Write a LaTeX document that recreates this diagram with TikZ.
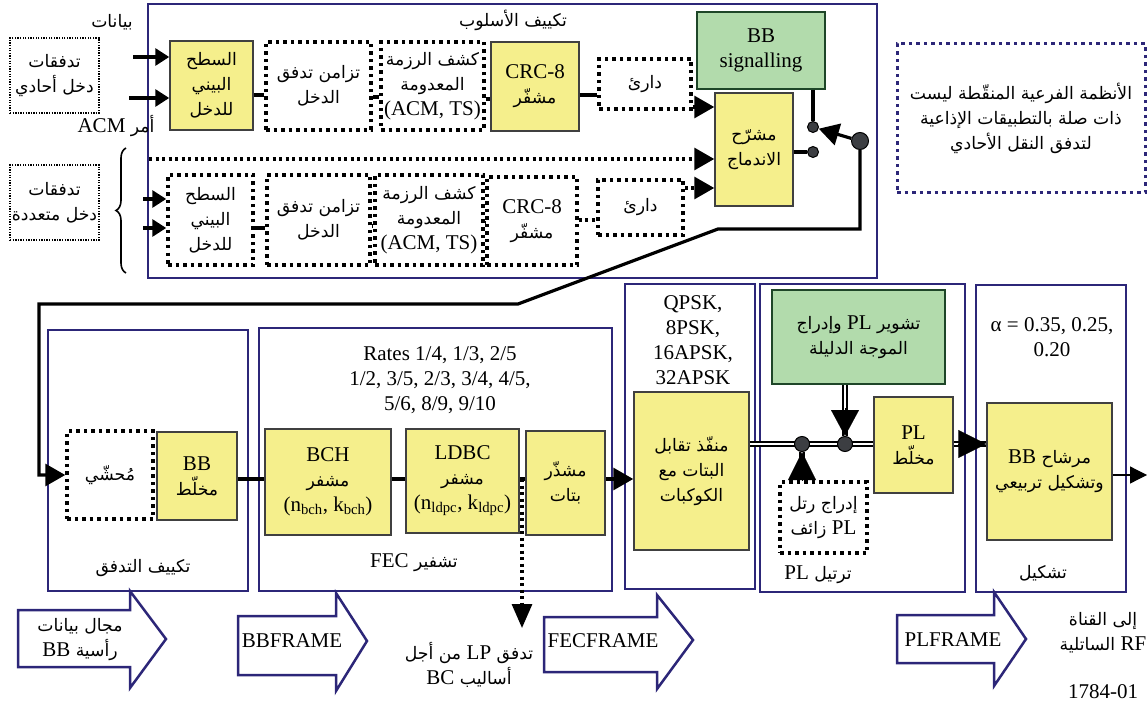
\documentclass[tikz,border=0pt]{standalone}
\usepackage{fontspec}
\setmainfont{Liberation Serif}
\newfontfamily\arabicfont[Script=Arabic,Scale=0.82]{DejaVu Sans}
\TeXXeTstate=1
\usetikzlibrary{arrows.meta,positioning,decorations.pathreplacing}
\definecolor{navy}{RGB}{44,38,120}
\definecolor{boxyellow}{RGB}{245,239,140}
\definecolor{boxgreen}{RGB}{178,219,172}
\definecolor{darkgreen}{RGB}{30,70,40}
\definecolor{knobgray}{RGB}{60,62,66}
\newcommand\ar[1]{{\arabicfont\beginR #1\endR}}
\newcommand\lt[1]{\beginL{\rmfamily #1}\endL{}}

\begin{document}
\begin{tikzpicture}[x=1pt,y=-1pt,
  every node/.style={font=\fontsize{21}{25}\selectfont, align=center, inner sep=0pt},
  frame/.style={draw=navy, line width=1.8pt},
  ybox/.style={draw=black!75, line width=1.5pt, fill=boxyellow},
  gbox/.style={draw=darkgreen, line width=1.5pt, fill=boxgreen},
  dbox/.style={draw, line width=3.5pt, dash pattern=on 3.5pt off 4pt},
  fbox/.style={draw, line width=1.2pt, dash pattern=on 1.3pt off 1.3pt},
  wire/.style={line width=3.2pt},
  dwire/.style={wire, dash pattern=on 3pt off 3.5pt},
  arr/.style={wire, -{Triangle[length=20pt,width=22pt]}},
  inarr/.style={wire, -{Triangle[length=14pt,width=17pt]}},
  dbl/.style={double, double distance=2.2pt, line width=2pt},
  knob/.style={circle, draw, line width=1pt, fill=knobgray},
  fat/.style={draw=navy, line width=2.5pt, fill=white, line join=miter}]
\useasboundingbox (0,0) rectangle (1147,711);

\node[frame, minimum width=729, minimum height=274] (mode) at (512.5,141) {};
\node (modet) at (513,20) {\ar{تكييف الأسلوب}};
\node (data) at (112,22) {\ar{بيانات}};
\node[fbox, minimum width=89, minimum height=75] (single) at (54.5,75.5) {\ar{تدفقات}\\\ar{دخل أحادي}};
\node (acm) at (116,126) {\ar{أمر \lt{ACM}}};
\node[fbox, minimum width=89, minimum height=75] (multi) at (54.5,202.5) {\ar{تدفقات}\\\ar{دخل متعددة}};
\coordinate (br1) at (126,273);
\coordinate (br2) at (126,148);
\draw[decorate, decoration={brace, amplitude=10pt}, line width=1.6pt] (br1) -- (br2);

\node[ybox, minimum width=83, minimum height=89] (ifcA) at (211.5,85.5) {\ar{السطح}\\\ar{البيني}\\\ar{للدخل}};
\node[dbox, minimum width=105, minimum height=88] (syncA) at (318.5,86) {\ar{تزامن تدفق}\\\ar{الدخل}};
\node[dbox, minimum width=103, minimum height=88] (nullA) at (432.5,86) {\ar{كشف الرزمة}\\\ar{المعدومة}\\(ACM, TS)};
\node[ybox, minimum width=88, minimum height=89] (crcA) at (535,86.5) {CRC-8\\\ar{مشفّر}};
\node[dbox, minimum width=92, minimum height=50] (bufA) at (645,84) {\ar{دارئ}};
\node[gbox, minimum width=128, minimum height=77] (bbsig) at (761,50.5) {BB\\signalling};
\node[ybox, minimum width=78, minimum height=113] (merger) at (754,149.5) {\ar{مشرّح}\\\ar{الاندماج}};
\node[knob, minimum size=11] (c1) at (813,127) {};
\node[knob, minimum size=11] (c2) at (813,152) {};
\node[knob, minimum size=17] (c3) at (860,141) {};

\node[dbox, minimum width=85, minimum height=90] (ifcB) at (210.5,220) {\ar{السطح}\\\ar{البيني}\\\ar{للدخل}};
\node[dbox, minimum width=103, minimum height=90] (syncB) at (318.5,220) {\ar{تزامن تدفق}\\\ar{الدخل}};
\node[dbox, minimum width=108, minimum height=90] (nullB) at (429,220) {\ar{كشف الرزمة}\\\ar{المعدومة}\\(ACM, TS)};
\node[dbox, minimum width=90, minimum height=88] (crcB) at (532,221) {CRC-8\\\ar{مشفّر}};
\node[dbox, minimum width=85, minimum height=55] (bufB) at (640.5,207.5) {\ar{دارئ}};

\node[dbox, draw=navy, line width=3pt, minimum width=248, minimum height=149] (note) at (1021,118.5) {\ar{الأنظمة الفرعية المنقّطة ليست}\\\ar{ذات صلة بالتطبيقات الإذاعية}\\\ar{لتدفق النقل الأحادي}};

\coordinate (inA1) at (133,57);
\coordinate (inA2) at (129,98);
\draw[inarr] (inA1) -- (inA1 -| ifcA.west);
\draw[inarr] (inA2) -- (inA2 -| ifcA.west);
\draw[wire] (ifcA.east |- 0,95) -- (syncA.west |- 0,95);
\draw[wire] (syncA.east |- 0,97) -- (nullA.west |- 0,97);
\draw[wire] (nullA.east |- 0,99) -- (crcA.west |- 0,99);
\draw[wire] (crcA.east |- 0,95) -- (bufA.west |- 0,95);
\draw[arr] (bufA.east |- 0,107) -- (merger.west |- 0,107);
\coordinate (dl) at (149,159);
\draw[dwire, -{Triangle[length=20pt,width=22pt]}] (dl) -- (dl -| merger.west);
\draw[dwire, -{Triangle[length=20pt,width=22pt]}] (bufB.east |- 0,188) -- (merger.west |- 0,188);
\draw[wire] (bbsig.south -| c1) -- (c1);
\draw[wire] (merger.east |- c2) -- (c2);
\draw[arr] (c3) -- (c1);

\coordinate (inB1) at (143,199);
\coordinate (inB2) at (143,228);
\draw[inarr] (inB1) -- (inB1 -| ifcB.west);
\draw[inarr] (inB2) -- (inB2 -| ifcB.west);
\draw[wire] (ifcB.east |- 0,228) -- (syncB.west |- 0,228);
\draw[wire] (syncB.east |- 0,226) -- (nullB.west |- 0,226);
\draw[wire] (nullB.east |- 0,223) -- (crcB.west |- 0,223);
\draw[dwire] (crcB.east |- 0,220) -- (bufB.west |- 0,220);

\node[frame, minimum width=200, minimum height=261] (sa) at (148,460.5) {};
\node[frame, minimum width=353, minimum height=263] (fec) at (435.5,459.5) {};
\node[frame, minimum width=130, minimum height=305] (map) at (690,436.5) {};
\node[frame, minimum width=205, minimum height=308] (plf) at (862.5,438) {};
\node[frame, minimum width=150, minimum height=307] (mod) at (1051,438.5) {};
\node (sat) at (143,568) {\ar{تكييف التدفق}};
\node (fect) at (414,563) {\ar{تشفير \lt{FEC}}};
\node (plft) at (818,575) {\ar{ترتيل \lt{PL}}};
\node (modt) at (1043,573) {\ar{تشكيل}};
\node (rates) at (440,380) {Rates 1/4, 1/3, 2/5\\1/2, 3/5, 2/3, 3/4, 4/5,\\5/6, 8/9, 9/10};
\node (mods) at (693,340) {QPSK,\\8PSK,\\16APSK,\\32APSK};
\node (roll) at (1052,337) {α = 0.35, 0.25,\\0.20};

\node[dbox, minimum width=86, minimum height=88] (pad) at (110,475) {\ar{مُحشّي}};
\node[ybox, minimum width=80, minimum height=88] (bbscr) at (197,476) {BB\\\ar{مخلّط}};
\node[ybox, minimum width=126, minimum height=106] (bch) at (328,482) {BCH\\\ar{مشفر}\\(n\textsubscript{bch}, k\textsubscript{bch})};
\node[ybox, minimum width=113, minimum height=104] (ldpc) at (462.5,481) {LDBC\\\ar{مشفر}\\(n\textsubscript{ldpc}, k\textsubscript{ldpc})};
\node[ybox, minimum width=79, minimum height=104] (bil) at (565.5,483) {\ar{مشذّر}\\\ar{بتات}};
\node[ybox, minimum width=115, minimum height=158] (mapper) at (691.5,471) {\ar{منفّذ تقابل}\\\ar{البتات مع}\\\ar{الكوكبات}};
\node[gbox, minimum width=173, minimum height=94] (plsig) at (858.5,337) {\ar{تشوير \lt{PL} وإدراج}\\\ar{الموجة الدليلة}};
\node[ybox, minimum width=79, minimum height=96] (plscr) at (913.5,445) {PL\\\ar{مخلّط}};
\node[dbox, minimum width=87, minimum height=71] (dummy) at (823.5,517.5) {\ar{إدراج رتل}\\\ar{\lt{PL} زائف}};
\node[ybox, minimum width=125, minimum height=137] (bbf) at (1049.5,471.5) {\ar{مرشاح \lt{BB}}\\\ar{وتشكيل تربيعي}};

\coordinate (k1) at (718,229);
\coordinate (k2) at (518,304);
\coordinate (bend) at (39,304);
\draw[arr] (c3) -- (c3 |- k1) -- (k1) -- (k2) -- (bend) |- (pad);

\draw[wire] (bbscr.east |- 0,479) -- (bch.west |- 0,479);
\draw[wire] (bch.east |- 0,479) -- (ldpc.west |- 0,479);
\draw[wire] (ldpc.east |- 0,479) -- (bil.west |- 0,479);
\draw[arr] (bil.east |- 0,479) -- (mapper.west |- 0,479);
\draw[dbl] (mapper.east |- 0,444) -- (plscr.west |- 0,444);
\node[knob, minimum size=15] (d1) at (802,444) {};
\node[knob, minimum size=15] (d2) at (845,444) {};
\draw[dbl] (plsig.south -| d2) -- (d2.north);
\draw[-{Triangle[length=26pt,width=28pt]}, line width=0.1pt] ([yshift=28pt]d2.north) -- (d2.north);
\draw[dbl] (dummy.north -| d1) -- (d1.south);
\draw[-{Triangle[length=28pt,width=28pt]}, line width=0.1pt] ([yshift=-28pt]d1.south) -- (d1.south);
\coordinate (bbfin) at (bbf.west |- 0,444);
\draw[dbl] (plscr.east |- 0,444) -- (bbfin);
\draw[-{Triangle[length=28pt,width=28pt]}, line width=0.1pt] ([xshift=-28pt]bbfin) -- (bbfin);
\coordinate (out) at (1147,475);
\draw[line width=1.2pt, -{Triangle[length=17pt,width=17pt]}] (bbf.east |- out) -- (out);
\coordinate (lp) at (522,479);
\coordinate (lpend) at (522,628);
\draw[dwire, -{Triangle[length=24pt,width=20pt]}] (lp) -- (lpend);

\draw[fat] (18,610) -- (130,610) -- (130,591) -- (166,639) -- (130,688) -- (130,667) -- (18,667) -- cycle;
\node (hdr) at (80,640) {\ar{مجال بيانات}\\\ar{رأسية \lt{BB}}};
\draw[fat] (238,616) -- (336,616) -- (336,593) -- (367,641) -- (336,691) -- (336,675) -- (238,675) -- cycle;
\node (bbfr) at (292,641) {BBFRAME};
\draw[fat] (544,617) -- (657,617) -- (657,595) -- (693,640) -- (657,689) -- (657,672) -- (544,672) -- cycle;
\node (fecfr) at (603,641) {FECFRAME};
\draw[fat] (897,615) -- (994,615) -- (994,592) -- (1026,639) -- (994,686) -- (994,663) -- (897,663) -- cycle;
\node (plfr) at (953,640) {PLFRAME};
\node (lpt) at (469,665) {\ar{تدفق \lt{LP} من أجل}\\\ar{أساليب \lt{BC}}};
\node (rf) at (1103,633) {\ar{إلى القناة}\\\ar{\lt{RF} الساتلية}};
\node (fig) at (1103,692) {1784-01};
\end{tikzpicture}
\end{document}
